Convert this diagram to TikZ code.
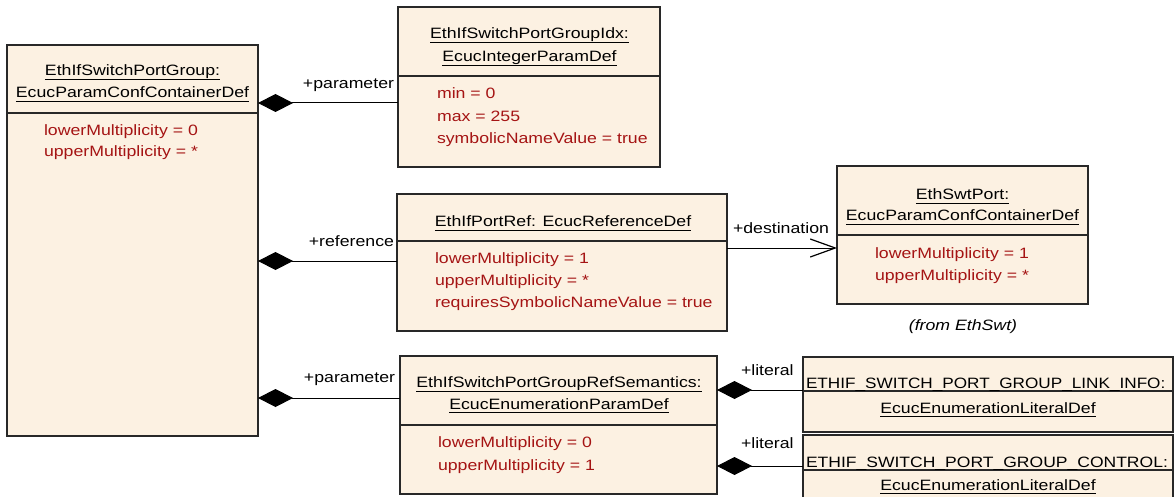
\documentclass[tikz,border=0pt]{standalone}
\usepackage{fontspec}
\usepackage{graphicx}
\setmainfont{Liberation Sans}[FakeStretch=1.18]
\usetikzlibrary{arrows.meta}
\definecolor{boxfill}{RGB}{252,241,226}
\definecolor{attr}{RGB}{165,20,20}
\definecolor{edge}{RGB}{40,40,40}

\begin{document}
\begin{tikzpicture}[x=1pt,y=-1pt,
  every node/.style={font=\fontsize{15}{18}\selectfont, inner sep=0pt, outer sep=0pt},
  umlbox/.style={draw=edge, line width=1.3pt, fill=boxfill, rectangle, anchor=north west},
  sepline/.style={draw=edge, line width=1.3pt},
  title/.style={anchor=base},
  attrib/.style={anchor=base west, text=attr},
  role/.style={anchor=base east},
  roler/.style={anchor=base west},
  uline/.style={line width=1.1pt},
  comp/.style={line width=1pt, {Diamond[length=35pt,width=18pt]}-},
  assoc/.style={line width=1pt, -{Straight Barb[length=25pt,width=18pt,line width=1.2pt]}}
]
\useasboundingbox (0,0) rectangle (1174,497);

% class boxes
\node[umlbox, minimum width=251pt, minimum height=391pt] (main) at (7,45) {};
\node[umlbox, minimum width=262pt, minimum height=160pt] (idx) at (398,7) {};
\node[umlbox, minimum width=330pt, minimum height=137pt] (ref) at (397,194) {};
\node[umlbox, minimum width=251pt, minimum height=138pt] (swt) at (837,166) {};
\node[umlbox, minimum width=317pt, minimum height=138pt] (sem) at (400,356) {};
\node[umlbox, minimum width=370pt, minimum height=75pt] (link) at (803,357) {};
\node[umlbox, minimum width=370pt, minimum height=75pt] (ctrl) at (803,435) {};

% compartment separators
\coordinate (s1) at (0,113);
\coordinate (s2) at (0,76);
\coordinate (s3) at (0,241);
\coordinate (s4) at (0,235);
\coordinate (s5) at (0,425);
\coordinate (s6) at (0,391);
\coordinate (s7) at (0,470);
\draw[sepline] (main.west |- s1) -- (main.east |- s1);
\draw[sepline] (idx.west |- s2) -- (idx.east |- s2);
\draw[sepline] (ref.west |- s3) -- (ref.east |- s3);
\draw[sepline] (swt.west |- s4) -- (swt.east |- s4);
\draw[sepline] (sem.west |- s5) -- (sem.east |- s5);
\draw[sepline] (link.west |- s6) -- (link.east |- s6);
\draw[sepline] (ctrl.west |- s7) -- (ctrl.east |- s7);

% titles
\node[title] (mainA) at (132.5,75.5) {EthIfSwitchPortGroup:};
\node[title] (mainB) at (132.5,97.5) {EcucParamConfContainerDef};
\node[title] (idxA) at (529.5,39) {EthIfSwitchPortGroupIdx:};
\node[title] (idxB) at (529.5,62) {EcucIntegerParamDef};
\node[title] (refA) at (563,226.7) {EthIfPortRef: EcucReferenceDef};
\node[title] (swtA) at (962.5,199.3) {EthSwtPort:};
\node[title] (swtB) at (962.5,220.7) {EcucParamConfContainerDef};
\node[title] (semA) at (559,387.7) {EthIfSwitchPortGroupRefSemantics:};
\node[title] (semB) at (559,409) {EcucEnumerationParamDef};
\node[anchor=base west] (linkA) at (806,388) {\scalebox{0.97}[1]{ETHIF\_SWITCH\_PORT\_GROUP\_LINK\_INFO:}};
\node[title] (linkB) at (988,413) {EcucEnumerationLiteralDef};
\node[anchor=base west] (ctrlA) at (806,467) {\scalebox{0.99}[1]{ETHIF\_SWITCH\_PORT\_GROUP\_CONTROL:}};
\node[title] (ctrlB) at (988,490) {EcucEnumerationLiteralDef};

\foreach \t in {mainA,mainB,idxA,idxB,refA,swtA,swtB,semA,semB,linkB,ctrlB}
  \draw[uline] ([yshift=-3.8pt]\t.base west) -- ([yshift=-3.8pt]\t.base east);

% attributes
\node[attrib] (m1) at (44,136) {lowerMultiplicity = 0};
\node[attrib] (m2) at (44,157) {upperMultiplicity = *};
\node[attrib] (i1) at (437,99) {min = 0};
\node[attrib] (i2) at (437,122) {max = 255};
\node[attrib] (i3) at (437,144) {symbolicNameValue = true};
\node[attrib] (r1) at (435,263.3) {lowerMultiplicity = 1};
\node[attrib] (r2) at (435,285) {upperMultiplicity = *};
\node[attrib] (r3) at (435,307.7) {requiresSymbolicNameValue = true};
\node[attrib] (w1) at (875,258.3) {lowerMultiplicity = 1};
\node[attrib] (w2) at (875,280) {upperMultiplicity = *};
\node[attrib] (e1) at (438,447.3) {lowerMultiplicity = 0};
\node[attrib] (e2) at (438,470) {upperMultiplicity = 1};

\node[title] (from) at (963,330) {\itshape (from EthSwt)};

% connectors
\coordinate (y1) at (0,103);
\coordinate (y2) at (0,261);
\coordinate (y3) at (0,248);
\coordinate (y4) at (0,398);
\coordinate (y5) at (0,390);
\coordinate (y6) at (0,466);
\draw[comp] (main.east |- y1) -- (idx.west |- y1);
\draw[comp] (main.east |- y2) -- (ref.west |- y2);
\draw[assoc] (ref.east |- y3) -- (swt.west |- y3);
\draw[comp] (main.east |- y4) -- (sem.west |- y4);
\draw[comp] (sem.east |- y5) -- (link.west |- y5);
\draw[comp] (sem.east |- y6) -- (ctrl.west |- y6);

% role names
\node[role] (p1) at (394,88.3) {+parameter};
\node[role] (p2) at (394,246) {+reference};
\node[role] (p3) at (395,382.7) {+parameter};
\node[roler] (d1) at (733,233.3) {+destination};
\node[roler] (l1) at (741,375) {+literal};
\node[roler] (l2) at (741,448) {+literal};
\end{tikzpicture}
\end{document}
